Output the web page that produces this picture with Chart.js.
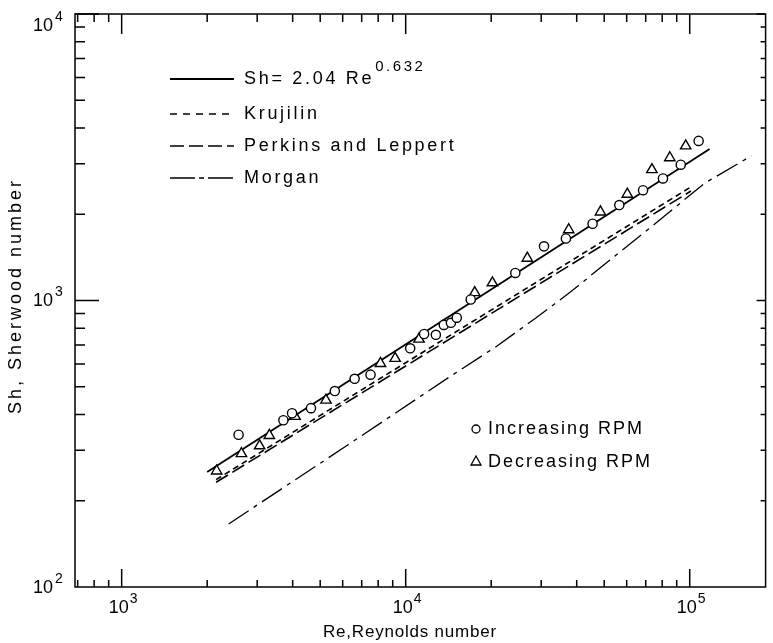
<!DOCTYPE html>
<html>
<head>
<meta charset="utf-8">
<title>Sherwood number vs Reynolds number</title>
<script src="https://cdn.jsdelivr.net/npm/chart.js@4.4.1/dist/chart.umd.min.js"></script>
<style>
  html, body { margin: 0; padding: 0; background: #fff; }
  #wrap { width: 773px; height: 643px; }
</style>
</head>
<body>
<div id="wrap"><canvas id="chart"></canvas></div>
<script>
var incRe = [2580, 3710, 3980, 4640, 5630, 6610, 7520, 10370, 11610, 12770, 13620, 14430, 15130, 16940, 24320, 30690, 36650, 45500, 56500, 68500, 80500, 93000, 107500];
var incSh = [340, 382, 404, 421, 483, 533, 551, 681, 764, 759, 822, 836, 871, 1008, 1248, 1545, 1646, 1853, 2154, 2427, 2667, 2978, 3606];

var decRe = [2160, 2640, 3060, 3310, 4080, 5240, 8150, 9180, 11140, 17500, 20200, 26800, 37500, 48500, 60300, 73600, 85100, 96800];
var decSh = [254, 292, 311, 338, 394, 449, 603, 628, 733, 1065, 1153, 1405, 1766, 2037, 2350, 2864, 3150, 3465];

// correlation lines (end points / break points)
var fitRe = [2000, 117500];
var fitSh = [252, 3380];
var krujRe = [2150, 101600];
var krujSh = [237, 2500];
var perkRe = [2150, 101000];
var perkSh = [232, 2410];
var morgRe = [2380, 6250, 14300, 20800, 28800, 38000, 49300, 75500, 112700, 165000];
var morgSh = [166, 313, 542, 690, 870, 1070, 1319, 1853, 2564, 3200];

// axes
var xTicks = [700, 800, 900, 1000, 2000, 3000, 4000, 5000, 6000, 7000, 8000, 9000,
  10000, 20000, 30000, 40000, 50000, 60000, 70000, 80000, 90000, 100000];
var yTicks = [200, 300, 400, 500, 600, 700, 800, 900, 1000, 2000, 3000, 4000, 5000,
  6000, 7000, 8000, 9000, 10000];
var xMajor = [1000, 10000, 100000];
var yMajor = [100, 1000, 10000];
var xLabelExp = ['3', '4', '5'];
var yLabelExp = ['2', '3', '4'];

var FONT = '"Liberation Sans", Arial, sans-serif';

function pts(xs, ys) {
  return xs.map(function(x, i) { return {x: x, y: ys[i]}; });
}

function txt(ctx, s, x, y, size, spacing, align) {
  ctx.font = size + 'px ' + FONT;
  ctx.letterSpacing = spacing + 'px';
  var w = ctx.measureText(s).width;
  var x0 = align === 'right' ? x - w : (align === 'center' ? x - w / 2 : x);
  ctx.textAlign = 'left';
  ctx.textBaseline = 'middle';
  ctx.fillText(s, x0, y);
  return w;
}

/* frame, inward ticks on all four sides, tick labels, axis titles and the legend */
var framePlugin = {
  id: 'frame',
  afterDraw: function(chart) {
    var ctx = chart.ctx, a = chart.chartArea;
    var xs = chart.scales.x, ys = chart.scales.y;
    ctx.save();
    ctx.strokeStyle = '#000';
    ctx.fillStyle = '#000';
    ctx.lineWidth = 1.5;
    ctx.strokeRect(a.left, a.top, a.right - a.left, a.bottom - a.top);

    ctx.beginPath();
    xTicks.forEach(function(v) {
      var px = xs.getPixelForValue(v);
      var major = xMajor.indexOf(v) >= 0;
      ctx.moveTo(px, a.bottom); ctx.lineTo(px, a.bottom - (major ? 18 : 7));
      ctx.moveTo(px, a.top); ctx.lineTo(px, a.top + (major ? 20 : 8));
    });
    yTicks.forEach(function(v) {
      var py = ys.getPixelForValue(v);
      var major = yMajor.indexOf(v) >= 0;
      ctx.moveTo(a.left, py); ctx.lineTo(a.left + (major ? 24 : 10), py);
      ctx.moveTo(a.right, py); ctx.lineTo(a.right - (major ? 9 : 5), py);
    });
    ctx.stroke();

    // tick labels 10^n
    xMajor.forEach(function(v, i) {
      var px = xs.getPixelForValue(v);
      var w = txt(ctx, '10', px - 3, a.bottom + 21, 18, 0, 'center');
      txt(ctx, xLabelExp[i], px - 3 + w / 2 + 1, a.bottom + 12, 14, 0, 'left');
    });
    yMajor.forEach(function(v, i) {
      var py = Math.max(ys.getPixelForValue(v) + 1, 26);
      txt(ctx, '10', 53, py, 18, 0, 'right');
      txt(ctx, yLabelExp[i], 55, py - 9, 14, 0, 'left');
    });

    // axis titles
    txt(ctx, 'Re,Reynolds number', 410, 632, 17, 0.8, 'center');
    ctx.save();
    ctx.translate(16, 296);
    ctx.rotate(-Math.PI / 2);
    txt(ctx, 'Sh, Sherwood number', 0, 0, 18, 3, 'center');
    ctx.restore();

    // line legend
    var rows = [
      {y: 79, dash: [], text: 'Sh= 2.04 Re', width: 1.8},
      {y: 114, dash: [7, 6], text: 'Krujilin', width: 1.5},
      {y: 146, dash: [14, 5], text: 'Perkins and Leppert', width: 1.5},
      {y: 178, dash: [25, 4, 5, 4], text: 'Morgan', width: 1.5}
    ];
    rows.forEach(function(r) {
      ctx.beginPath();
      ctx.setLineDash(r.dash);
      ctx.lineWidth = r.width;
      ctx.moveTo(170, r.y); ctx.lineTo(234, r.y);
      ctx.stroke();
      ctx.setLineDash([]);
      var w = txt(ctx, r.text, 244, r.y, 18, 2.7, 'left');
      if (r.y === 79) txt(ctx, '0.632', 244 + w + 1, 67, 15, 2.5, 'left');
    });

    // symbol legend
    ctx.lineWidth = 1.3;
    ctx.beginPath();
    ctx.arc(476, 429, 4, 0, Math.PI * 2);
    ctx.stroke();
    txt(ctx, 'Increasing RPM', 488, 429, 18, 2, 'left');
    ctx.beginPath();
    ctx.moveTo(476, 456); ctx.lineTo(481, 465); ctx.lineTo(471, 465); ctx.closePath();
    ctx.stroke();
    txt(ctx, 'Decreasing RPM', 488, 462, 18, 2, 'left');
    ctx.restore();
  }
};

var lineDefaults = {showLine: true, pointRadius: 0, pointHoverRadius: 0, borderColor: '#000', fill: false};

new Chart(document.getElementById('chart'), {
  type: 'scatter',
  data: {
    datasets: [
      {label: 'Increasing RPM', data: pts(incRe, incSh), pointStyle: 'circle', pointRadius: 4.6,
        borderColor: '#000', backgroundColor: '#fff', borderWidth: 1.4},
      {label: 'Decreasing RPM', data: pts(decRe, decSh), pointStyle: 'triangle', pointRadius: 6,
        borderColor: '#000', backgroundColor: '#fff', borderWidth: 1.4},
      Object.assign({label: 'Sh=2.04 Re^0.632', data: pts(fitRe, fitSh), borderWidth: 1.8}, lineDefaults),
      Object.assign({label: 'Krujilin', data: pts(krujRe, krujSh), borderWidth: 1.6, borderDash: [6, 4]}, lineDefaults),
      Object.assign({label: 'Perkins and Leppert', data: pts(perkRe, perkSh), borderWidth: 1.6, borderDash: [14, 5]}, lineDefaults),
      Object.assign({label: 'Morgan', data: pts(morgRe, morgSh), borderWidth: 1.3, borderDash: [24, 6, 4, 6]}, lineDefaults)
    ]
  },
  options: {
    responsive: true,
    maintainAspectRatio: false,
    animation: false,
    events: [],
    layout: {padding: {left: 75, right: 1, top: 14, bottom: 56}},
    plugins: {legend: {display: false}, tooltip: {enabled: false}},
    scales: {
      x: {type: 'logarithmic', min: 685, max: 185000,
        ticks: {display: false}, grid: {display: false}, border: {display: false},
        afterFit: function(s) { s.height = 0; }},
      y: {type: 'logarithmic', min: 100, max: 10000,
        ticks: {display: false}, grid: {display: false}, border: {display: false},
        afterFit: function(s) { s.width = 0; }}
    }
  },
  plugins: [framePlugin]
});
</script>
</body>
</html>
